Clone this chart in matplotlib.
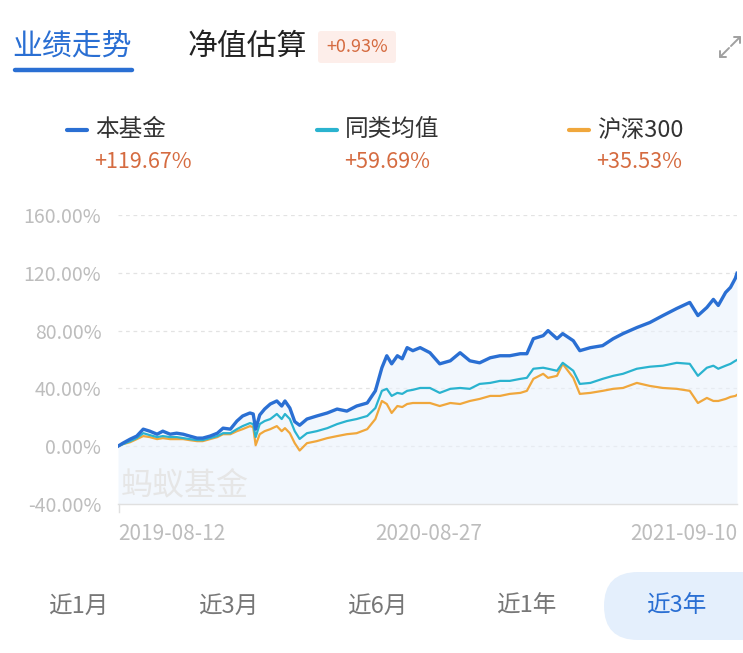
import matplotlib
matplotlib.use("Agg")
import matplotlib.pyplot as plt
from matplotlib.patches import FancyBboxPatch

plt.rcParams["font.family"] = ["Noto Sans CJK SC", "DejaVu Sans"]

# ── data (cumulative return, %) ───────────────────────────────────────────────
DAYS = [0, 6, 15, 23, 31, 39, 48, 55, 64, 72, 80, 88, 97, 104, 113, 122, 129,
        138, 146, 153, 162, 166, 169, 174, 180, 187, 195, 201, 205, 211, 217,
        223, 232, 244, 257, 269, 281, 293, 306, 316, 324, 330, 336, 343, 349,
        355, 362, 371, 383, 395, 408, 420, 432, 444, 457, 469, 481, 494, 502,
        510, 522, 528, 539, 546, 559, 567, 580, 595, 608, 620, 637, 653, 669,
        686, 702, 712, 723, 731, 737, 746, 752, 758, 760]

FUND = [0, 2.1, 4.9, 7.0, 11.8, 10.4, 8.3, 10.4, 8.3, 9.0,
        8.3, 7.0, 5.6, 5.6, 7.0, 9.0, 12.5, 11.8, 17.4, 20.9,
        23.0, 22.3, 11.8, 21.6, 25.7, 29.2, 31.3, 27.8, 31.3, 26.4,
        17.0, 14.5, 18.8, 20.9, 23.0, 25.7, 24.3, 27.8, 29.9, 38.3,
        54.3, 62.6, 57.0, 62.6, 60.5, 68.2, 66.1, 68.2, 64.7, 57.0,
        59.1, 64.7, 59.1, 57.7, 61.2, 62.6, 62.6, 64.0, 64.0, 74.4,
        76.5, 80.0, 74.4, 77.9, 73.0, 66.1, 68.2, 69.6, 74.4, 77.9,
        82.1, 85.6, 90.4, 95.3, 99.5, 90.4, 96.0, 101.6, 97.4, 106.4,
        109.9, 116.2, 119.67]

PEER = [0, 1.4, 3.5, 5.6, 9.0, 7.7, 6.3, 7.0, 6.3, 6.3,
        5.6, 4.9, 4.2, 4.2, 5.6, 7.0, 9.0, 9.0, 11.8, 13.9,
        16.0, 15.3, 6.3, 15.3, 17.4, 18.8, 22.3, 18.8, 22.3, 18.8,
        10.4, 5.0, 9.0, 10.4, 12.5, 15.3, 17.4, 18.8, 20.9, 26.4,
        38.3, 39.7, 34.8, 36.9, 36.2, 38.3, 39.0, 40.3, 40.3, 36.9,
        39.7, 40.3, 39.7, 43.1, 43.8, 45.2, 45.2, 46.6, 47.3, 53.6,
        54.3, 53.6, 52.2, 57.7, 52.2, 43.1, 43.8, 46.6, 48.7, 50.1,
        53.6, 55.0, 55.7, 57.7, 57.0, 48.7, 54.3, 55.7, 53.6, 55.7,
        57.0, 59.1, 59.69]

HS300 = [0, 1.4, 2.8, 4.9, 7.0, 6.3, 4.9, 5.6, 4.9, 4.9,
         4.9, 4.2, 3.5, 3.5, 4.9, 6.3, 8.3, 8.3, 10.4, 11.8,
         13.9, 13.2, 0.7, 8.3, 10.4, 11.8, 13.9, 10.4, 12.5, 9.0,
         2.1, -3.0, 2.1, 3.5, 5.6, 7.0, 8.3, 9.0, 11.8, 18.8,
         31.3, 29.2, 23.0, 27.8, 27.1, 29.2, 29.9, 29.9, 29.9, 27.8,
         29.9, 29.2, 31.3, 32.7, 34.8, 34.8, 36.2, 36.9, 38.3, 46.6,
         50.1, 47.3, 48.7, 57.0, 47.3, 36.2, 36.9, 38.3, 39.7, 40.3,
         43.8, 41.7, 40.3, 39.7, 38.3, 29.9, 33.4, 31.3, 31.3, 32.7,
         34.1, 34.8, 35.53]

SERIES_NAMES = ["本基金", "同类均值", "沪深300"]
SERIES_RETURNS = ["+119.67%", "+59.69%", "+35.53%"]
Y_TICKS = [-40, 0, 40, 80, 120, 160]
X_TICKS = [0, 381, 760]
X_LABELS = ["2019-08-12", "2020-08-27", "2021-09-10"]
PERIODS = ["近1月", "近3月", "近6月", "近1年", "近3年"]

BLUE, TEAL, ORANGE = "#2a6fd3", "#2ab3cf", "#f0a73c"
RED_TXT = "#d56b40"
GRAY_TXT = "#bdbdbd"

W, H = 743, 653
fig = plt.figure(figsize=(W / 100, H / 100), dpi=100)

# overlay in pixel coords for header / footer decoration
ov = fig.add_axes([0, 0, 1, 1], zorder=0)
ov.set_xlim(0, W)
ov.set_ylim(H, 0)
ov.axis("off")

# ── header ────────────────────────────────────────────────────────────────────
ov.text(12, 46, "业绩走势", fontsize=21.5, color=BLUE, va="center", ha="left")
ov.plot([15, 132], [70, 70], color=BLUE, lw=3.2, solid_capstyle="round")
ov.text(188, 46, "净值估算", fontsize=21.5, color="#222222", va="center", ha="left")
ov.add_patch(FancyBboxPatch((318, 31), 78, 32, boxstyle="round,pad=0,rounding_size=3",
                            fc="#fdeeea", ec="none"))
ov.text(357, 47, "+0.93%", fontsize=13, color=RED_TXT, va="center", ha="center")
icon = dict(color="#a0a0a0", lw=1.4, solid_capstyle="round")
ov.plot([731, 740], [46, 37], **icon)
ov.plot([734, 740, 740], [37, 37, 43], **icon)
ov.plot([729, 720], [48, 57], **icon)
ov.plot([720, 720, 726], [51, 57, 57], **icon)

# ── legend row ────────────────────────────────────────────────────────────────
for name, ret, col, x0 in zip(SERIES_NAMES, SERIES_RETURNS,
                              [BLUE, TEAL, ORANGE], [65, 315, 567]):
    ov.plot([x0 + 2, x0 + 22], [130, 130], color=col, lw=3, solid_capstyle="round")
    ov.text(x0 + 30, 130, name, fontsize=17, color="#333333", va="center", ha="left")
    ov.text(x0 + 29, 162, ret, fontsize=15.5, color=RED_TXT, va="center", ha="left")

# ── footer period buttons ─────────────────────────────────────────────────────
ov.add_patch(FancyBboxPatch((604, 572), 200, 68, boxstyle="round,pad=0,rounding_size=34",
                            fc="#e4effc", ec="none"))
for i, (lab, xc) in enumerate(zip(PERIODS, [78, 228, 377, 526, 676])):
    ov.text(xc, 606, lab, fontsize=17, va="center", ha="center",
            color=BLUE if i == len(PERIODS) - 1 else "#777777")

# ── chart ─────────────────────────────────────────────────────────────────────
ax = fig.add_axes([118 / W, 1 - 504 / H, 619 / W, 289 / H], zorder=1)
ax.set_facecolor("none")
ax.set_xlim(DAYS[0], DAYS[-1])
ax.set_ylim(-40, 160)

ax.fill_between(DAYS, FUND, -40, color="#eaf2fc", alpha=0.6, lw=0, zorder=1)
ax.text(0.004, 0.065, "蚂蚁基金", transform=ax.transAxes, fontsize=23,
        color="#e6e6e6", ha="left", va="center", zorder=1.5)

for y in Y_TICKS[1:]:
    ax.axhline(y, color="#e3e3e3", lw=0.9, ls=(0, (3, 3)), zorder=0.5)

ax.plot(DAYS, HS300, color=ORANGE, lw=1.6, zorder=3)
ax.plot(DAYS, PEER, color=TEAL, lw=1.6, zorder=4)
ax.plot(DAYS, FUND, color=BLUE, lw=2.4, zorder=5, solid_joinstyle="round")

for s in ("top", "right", "left"):
    ax.spines[s].set_visible(False)
ax.spines["bottom"].set_color("#e0e0e0")
ax.spines["bottom"].set_linewidth(1.0)

ax.set_yticks(Y_TICKS)
ax.set_yticklabels([f"{v:.2f}%" for v in Y_TICKS])
ax.tick_params(axis="y", length=0, pad=12, labelsize=14, labelcolor=GRAY_TXT)

ax.set_xticks(X_TICKS)
ax.set_xticklabels(X_LABELS)
ax.tick_params(axis="x", length=0, pad=14, labelsize=15, labelcolor=GRAY_TXT)
for lbl, ha in zip(ax.get_xticklabels(), ["left", "center", "right"]):
    lbl.set_ha(ha)

ov.plot([118.5, 118.5], [504, 512], color="#e0e0e0", lw=1.0)

fig.savefig("out.png", dpi=100)
